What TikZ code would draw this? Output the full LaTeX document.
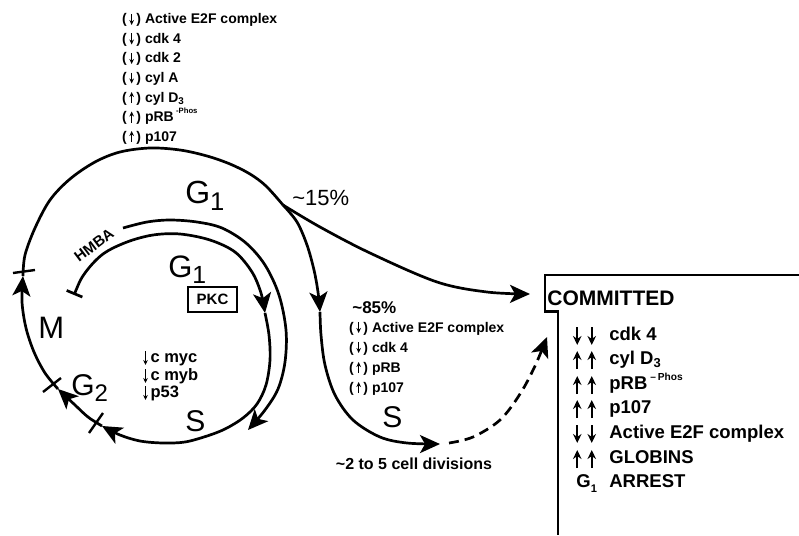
\documentclass[tikz,border=0pt]{standalone}
\usepackage{fontspec}
\usepackage{graphicx}
\setmainfont{Liberation Sans}
\usetikzlibrary{arrows.meta}
\newcommand\fs[1]{\fontsize{#1}{#1}\selectfont}
% small arrows inside text
\newcommand\smdn{\tikz[baseline=0pt]\draw[line width=1.3pt,-{Stealth[length=5pt,width=4.6pt]}] (0pt,10pt)--(0pt,-1pt);}
\newcommand\smup{\tikz[baseline=0pt]\draw[line width=1.3pt,-{Stealth[length=5pt,width=4.6pt]}] (0pt,-1pt)--(0pt,10pt);}
\newcommand\pdn{(\kern2.5pt\smdn\kern2.5pt)}
\newcommand\pup{(\kern2.5pt\smup\kern2.5pt)}
\newcommand\mdn{\tikz[baseline=0pt]\draw[line width=1.3pt,-{Stealth[length=5pt,width=4.6pt]}] (0pt,11pt)--(0pt,-3pt);}
\newcommand\bdn{\tikz[baseline=0pt]\draw[line width=2.4pt,-{Stealth[length=9pt,width=8.5pt]}] (0pt,13pt)--(0pt,-5pt);}
\newcommand\bup{\tikz[baseline=0pt]\draw[line width=2.4pt,-{Stealth[length=9pt,width=8.5pt]}] (0pt,-5pt)--(0pt,13pt);}
\newcommand\lowsub[3]{#1\raisebox{-#3}{\scalebox{#2}{1}}}
\begin{document}
\begin{tikzpicture}[x=1pt,y=-1pt,line width=2.7pt,
  tip/.style={-{Stealth[length=20pt,width=18pt,inset=5pt]}},
  cyc/.style={line width=2.7pt},
  tick/.style={line width=2.4pt},
  lbl/.style={inner sep=0pt,anchor=base west},
  small/.style={lbl,font=\fs{14}\bfseries},
  big/.style={lbl,font=\fs{31}}]
\useasboundingbox (0,0) rectangle (799,535);

% ---- key coordinates
\coordinate (tbar) at (74,295);
\coordinate (a1) at (265,313);
\coordinate (a2) at (102,426);
\coordinate (a3) at (58,389);
\coordinate (a4) at (23,276);
\coordinate (br) at (283,205);
\coordinate (a5) at (320,312);
\coordinate (a6) at (440,444);
\coordinate (d0) at (449,443);
\coordinate (a7) at (547,337);
\coordinate (a8) at (530,294);
\coordinate (h0) at (123,228);
\coordinate (a9) at (248,430);

% ---- main cycle
\draw[cyc,{Bar[width=17pt]}-{Stealth[length=20pt,width=18pt,inset=5pt]}] plot[smooth,tension=0.55] coordinates
  {(tbar) (85,273) (103,254) (127,242) (153,235) (180,234) (210,240) (235,252) (252,272) (261,293) (a1)};
\draw[cyc,tip] plot[smooth,tension=0.55] coordinates
  {(a1) (269,335) (270,360) (266,385) (257,404) (243,418) (225,429) (207,436) (185,442) (163,443) (140,441) (120,435) (a2)};
\draw[cyc,tip] plot[smooth,tension=0.55] coordinates
  {(a2) (88,417) (75,405) (a3)};
\draw[cyc,tip] plot[smooth,tension=0.55] coordinates
  {(a3) (45,373) (34,352) (26,328) (22,302) (a4)};
\draw[cyc] plot[smooth,tension=0.55] coordinates
  {(a4) (25,255) (35,228) (50,200) (70,179) (95,162) (120,152) (150,148) (180,150) (207,156) (230,164) (250,174) (266,186) (br)};

% ticks
\draw[tick] (13,273) -- (35,270);
\draw[tick] (43,392) -- (61,378);
\draw[tick] (89,433) -- (103,413);

% ---- HMBA arc
\draw[cyc,tip] plot[smooth,tension=0.55] coordinates
  {(h0) (147,222) (170,220) (197,222) (222,228) (246,243) (265,265) (279,295) (286,330) (285,362) (278,389) (265,410) (a9)};

% ---- branches
\draw[cyc,tip] plot[smooth,tension=0.55] coordinates
  {(br) (297,222) (307,245) (314,270) (318,292) (a5)};
\draw[cyc,tip] plot[smooth,tension=0.55] coordinates
  {(a5) (321,335) (325,365) (335,395) (353,420) (380,437) (407,443) (a6)};
\draw[cyc,tip,dash pattern=on 10pt off 6pt] plot[smooth,tension=0.55] coordinates
  {(d0) (473,437) (500,420) (520,394) (535,366) (a7)};
\draw[cyc,tip] plot[smooth,tension=0.55] coordinates
  {(br) (320,227) (370,253) (437,282) (487,292) (a8)};

% ---- COMMITTED box
\draw[line width=2.5pt] (799,275) -- (545,275) -- (545,311.5) -- (558,311.5) -- (558,535);

% ---- top list
\node[small] (t1) at (122,24) {\pdn\ Active E2F complex};
\node[small] (t2) at (122,43.5) {\pdn\ cdk 4};
\node[small] (t3) at (122,63) {\pdn\ cdk 2};
\node[small] (t4) at (122,82.5) {\pdn\ cyl A};
\node[small] (t5) at (122,102) {\pup\ cyl D\raisebox{-0.2em}{\scalebox{0.7}{3}}};
\node[small] (t6) at (122,121.5) {\pup\ pRB\,\raisebox{0.55em}{\scalebox{0.55}{-Phos}}};
\node[small] (t7) at (122,141) {\pup\ p107};

% ---- big labels
\node[big,font=\fs{32}] (g1top) at (184,203) {\lowsub{G}{0.8}{0.22em}};
\node[big] (g1in) at (167,277) {\lowsub{G}{0.8}{0.22em}};
\node[big] (mlab) at (37,338) {M};
\node[big,font=\fs{30}] (g2) at (70,395) {G\raisebox{-0.2em}{\scalebox{0.8}{2}}};
\node[big,font=\fs{30}] (s1) at (184,431) {S};
\node[big,font=\fs{30}] (s2) at (381,427) {S};

\node[draw,line width=1.5pt,minimum width=49pt,minimum height=25pt,inner sep=0pt,font=\fs{15}\bfseries] (pkc) at (212.5,299.5) {PKC};
\node[inner sep=0pt,font=\fs{15}\bfseries,rotate=37] (hmba) at (94,245) {HMBA};

\node[lbl,font=\fs{16.5}\bfseries] (m1) at (143,362) {\mdn\,c myc};
\node[lbl,font=\fs{16.5}\bfseries] (m2) at (143,380) {\mdn\,c myb};
\node[lbl,font=\fs{16.5}\bfseries] (m3) at (143,397) {\mdn\,p53};

\node[lbl,font=\fs{22}] (p15) at (291,205) {\char`\~15\%};
\node[lbl,font=\fs{17}\bfseries] (p85) at (351,313) {\char`\~85\%};
\node[small] (r1) at (349,332) {\pdn\ Active E2F complex};
\node[small] (r2) at (349,352) {\pdn\ cdk 4};
\node[small] (r3) at (349,372) {\pup\ pRB};
\node[small] (r4) at (349,392) {\pup\ p107};
\node[anchor=base,inner sep=0pt,font=\fs{16}\bfseries] (div) at (414,469) {\char`\~2 to 5 cell divisions};

% ---- committed list
\node[lbl,font=\fs{21}\bfseries] (com) at (546,305) {COMMITTED};
\node[anchor=base,inner sep=0pt] (c1a) at (584.5,340) {\bdn\hspace{6pt}\bdn};
\node[anchor=base,inner sep=0pt] (c2a) at (584.5,364) {\bup\hspace{6pt}\bup};
\node[anchor=base,inner sep=0pt] (c3a) at (584.5,389) {\bup\hspace{6pt}\bup};
\node[anchor=base,inner sep=0pt] (c4a) at (584.5,413) {\bup\hspace{6pt}\bup};
\node[anchor=base,inner sep=0pt] (c5a) at (584.5,438) {\bdn\hspace{6pt}\bdn};
\node[anchor=base,inner sep=0pt] (c6a) at (584.5,463) {\bup\hspace{6pt}\bup};
\node[lbl,font=\fs{18.5}\bfseries] (c7a) at (575,487) {G\raisebox{-0.3em}{\scalebox{0.6}{1}}};
\node[lbl,font=\fs{18.5}\bfseries] (c1) at (608,340) {cdk 4};
\node[lbl,font=\fs{18.5}\bfseries] (c2) at (608,364) {cyl D\raisebox{-0.2em}{\scalebox{0.7}{3}}};
\node[lbl,font=\fs{18.5}\bfseries] (c3) at (608,389) {pRB\,\raisebox{0.45em}{\scalebox{0.55}{–\,Phos}}};
\node[lbl,font=\fs{18.5}\bfseries] (c4) at (608,413) {p107};
\node[lbl,font=\fs{18.5}\bfseries] (c5) at (608,438) {Active E2F complex};
\node[lbl,font=\fs{18.5}\bfseries] (c6) at (608,463) {GLOBINS};
\node[lbl,font=\fs{18.5}\bfseries] (c7) at (608,487) {ARREST};
\end{tikzpicture}
\end{document}
